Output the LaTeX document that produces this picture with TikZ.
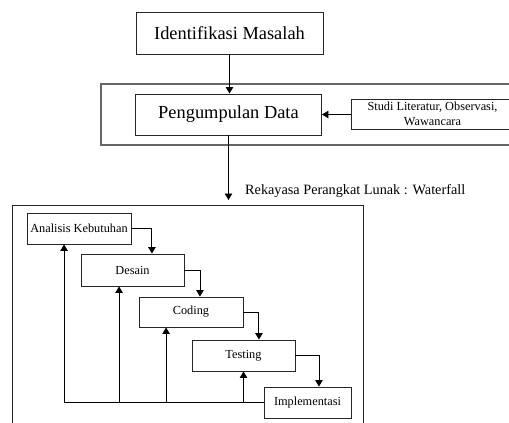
\documentclass[tikz,border=0pt]{standalone}
\usepackage{fontspec}
\setmainfont{Liberation Serif}
\usetikzlibrary{arrows.meta}
\begin{document}
\begin{tikzpicture}[x=1bp,y=-1bp,
  box/.style={draw=black!85,line width=0.9bp,rectangle,inner sep=0pt,align=center},
  big/.style={box,font=\fontsize{18.4bp}{21bp}\selectfont},
  small/.style={box,font=\fontsize{12.3bp}{14.5bp}\selectfont},
  arr/.style={draw=black,line width=0.9bp,-{Triangle[length=6.5bp,width=7.5bp]}}]
\useasboundingbox (0,0) rectangle (509,422);
\clip (0,0) rectangle (509,422);
% group box
\node[draw=black!60,line width=1.4bp,rectangle,inner sep=0pt,minimum width=413bp,minimum height=61bp] (grp) at (307.5,114.5) {};
\node[big,minimum width=187bp,minimum height=42bp] (ident) at (229.5,33) {Identifikasi Masalah};
\node[big,minimum width=186bp,minimum height=41bp] (peng) at (228.5,114.5) {Pengumpulan Data};
\node[small,minimum width=163bp,minimum height=30bp] (studi) at (432.5,114) {Studi Literatur, Observasi,\\Wawancara};
\coordinate (wf) at (228.5,200);
\node[anchor=west,inner sep=0pt,font=\fontsize{14.25bp}{16bp}\selectfont] (lbl) at (245,191) {Rekayasa Perangkat Lunak : Waterfall};
% waterfall box
\node[draw=black!85,line width=1bp,rectangle,inner sep=0pt,minimum width=350bp,minimum height=225bp] (wbox) at (188,317.5) {};
\node[small,minimum width=104bp,minimum height=31bp] (ana) at (79,228.5) {Analisis Kebutuhan};
\node[small,minimum width=103bp,minimum height=32bp] (des) at (132.5,270) {Desain};
\node[small,minimum width=104bp,minimum height=30bp] (cod) at (191,312) {Coding};
\node[small,minimum width=103bp,minimum height=31bp] (tes) at (243.5,355.5) {Testing};
\node[small,minimum width=87bp,minimum height=31bp] (imp) at (307.5,402.5) {Implementasi};
% connectors
\draw[arr] (ident.south) -- (ident.south |- peng.north);
\draw[arr] (studi.west |- peng.east) -- (peng.east);
\draw[arr] (peng.south) -- (wf);
\draw[arr] (ana.east) -| ([xshift=19.5]des.north);
\draw[arr] (des.east) -| ([xshift=9]cod.north);
\draw[arr] (cod.east) -| ([xshift=15.5]tes.north);
\draw[arr] (tes.east) -| ([xshift=11.5]imp.north);
\draw[arr] (imp.west) -| ([xshift=-15]ana.south);
\draw[arr] ([xshift=-13.5]des.south |- imp.west) -- ([xshift=-13.5]des.south);
\draw[arr] ([xshift=-25]cod.south |- imp.west) -- ([xshift=-25]cod.south);
\draw[arr] (tes.south |- imp.west) -- (tes.south);
\end{tikzpicture}
\end{document}
